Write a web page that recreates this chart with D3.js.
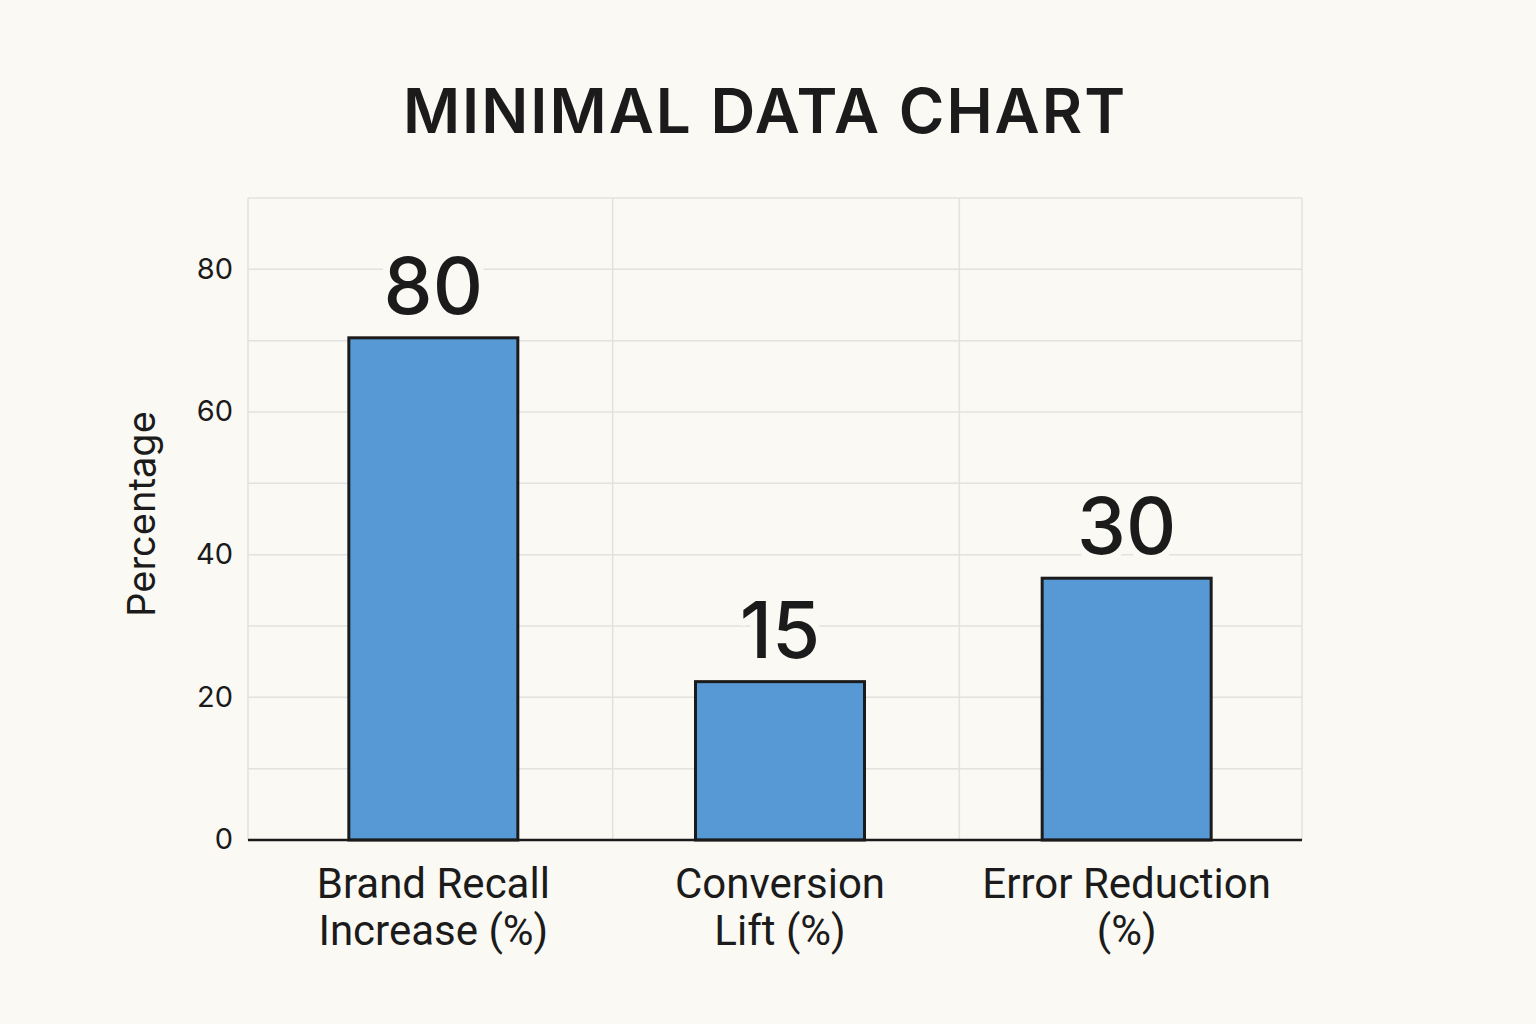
<!DOCTYPE html>
<html>
<head>
<meta charset="utf-8">
<script src="https://cdn.jsdelivr.net/npm/d3@7"></script>
<style>
  html, body { margin: 0; padding: 0; background: #faf9f4; }
  svg { display: block; }
</style>
</head>
<body>
<svg id="chart" width="1536" height="1024"></svg>
<script>
// ---- data ----
const categories = [["Brand Recall", "Increase (%)"], ["Conversion", "Lift (%)"], ["Error Reduction", "(%)"]];
const barValues = [70.4, 22.2, 36.7];      // bar heights as drawn
const valueLabels = ["80", "15", "30"];    // printed labels
const yTicks = [0, 20, 40, 60, 80];
const yGrid = [0, 10, 20, 30, 40, 50, 60, 70, 80, 90];
const chartTitle = "MINIMAL DATA CHART";
const yTitle = "Percentage";

const W = 1536, H = 1024;
const m = { left: 248, right: 234, top: 198, bottom: 184 };
const svg = d3.select("#chart");
svg.append("rect").attr("width", W).attr("height", H).attr("fill", "#faf9f4");

const x0 = m.left, x1 = W - m.right, yTop = m.top, yBot = H - m.bottom;

const y = d3.scaleLinear().domain([0, 90]).range([yBot, yTop]);
const x = d3.scaleBand().domain(d3.range(categories.length)).range([x0 + 12, x1 - 2]).paddingInner(0).paddingOuter(0);
const barW = 169;

const g = svg.append("g");

// horizontal grid
g.selectAll("line.hg").data(yGrid).join("line")
  .attr("x1", x0).attr("x2", x1)
  .attr("y1", d => y(d)).attr("y2", d => y(d))
  .attr("stroke", "#e3e2de").attr("stroke-width", 1.5);

// vertical grid: frame edges and band boundaries
const vLines = [x0, ...d3.range(1, categories.length).map(i => x(i) + 6), x1];
g.selectAll("line.vg").data(vLines).join("line")
  .attr("x1", d => d).attr("x2", d => d)
  .attr("y1", yTop).attr("y2", yBot)
  .attr("stroke", "#e3e2de").attr("stroke-width", 1.5);

// bars
g.selectAll("rect.bar").data(barValues).join("rect")
  .attr("x", (d, i) => x(i) + x.bandwidth() / 2 - barW / 2)
  .attr("y", d => y(d))
  .attr("width", barW)
  .attr("height", d => y(0) - y(d))
  .attr("fill", "#5799d5")
  .attr("stroke", "#1b1b1b").attr("stroke-width", 3);

// baseline
g.append("line").attr("x1", x0).attr("x2", x1)
  .attr("y1", y(0)).attr("y2", y(0))
  .attr("stroke", "#1b1b1b").attr("stroke-width", 2.5);

// value labels
g.selectAll("text.val").data(barValues).join("text")
  .attr("x", (d, i) => x(i) + x.bandwidth() / 2)
  .attr("y", d => y(d) - 24)
  .attr("text-anchor", "middle")
  .attr("font-family", "Inter, 'Noto Sans', sans-serif")
  .attr("font-size", 78).attr("font-weight", 500)
  .attr("fill", "#1b1b1b")
  .attr("stroke", "#faf9f4").attr("stroke-width", 14).attr("paint-order", "stroke")
  .attr("stroke-linejoin", "round")
  .text((d, i) => valueLabels[i]);

// y tick labels
const yAxis = d3.axisLeft(y).tickValues(yTicks).tickSize(0).tickPadding(15);
const ya = g.append("g").attr("transform", `translate(${x0},0)`).call(yAxis);
ya.select(".domain").remove();
ya.selectAll("text")
  .attr("font-family", "Inter, 'Noto Sans', sans-serif")
  .attr("font-size", 29).attr("fill", "#1b1b1b").attr("dy", "0.3em");

// x category labels
const xl = g.selectAll("text.cat").data(categories).join("text")
  .attr("text-anchor", "middle")
  .attr("font-family", "'Liberation Sans Narrow', Roboto, sans-serif")
  .attr("font-size", 42).attr("fill", "#1b1b1b");
xl.selectAll("tspan").data((d, i) => d.map(t => ({ t, i }))).join("tspan")
  .attr("x", d => x(d.i) + x.bandwidth() / 2)
  .attr("y", (d, j) => yBot + 58 + j * 47)
  .text(d => d.t);

// y title
svg.append("text")
  .attr("transform", `translate(155, 514) rotate(-90)`)
  .attr("text-anchor", "middle")
  .attr("font-family", "Inter, 'Noto Sans', sans-serif")
  .attr("font-size", 38).attr("fill", "#1b1b1b")
  .text(yTitle);

// title
svg.append("text")
  .attr("x", 765).attr("y", 133)
  .attr("text-anchor", "middle")
  .attr("font-family", "Inter, 'Noto Sans', sans-serif")
  .attr("font-size", 62).attr("font-weight", 600)
  .attr("letter-spacing", 2)
  .attr("fill", "#1b1b1b")
  .text(chartTitle);
</script>
</body>
</html>
